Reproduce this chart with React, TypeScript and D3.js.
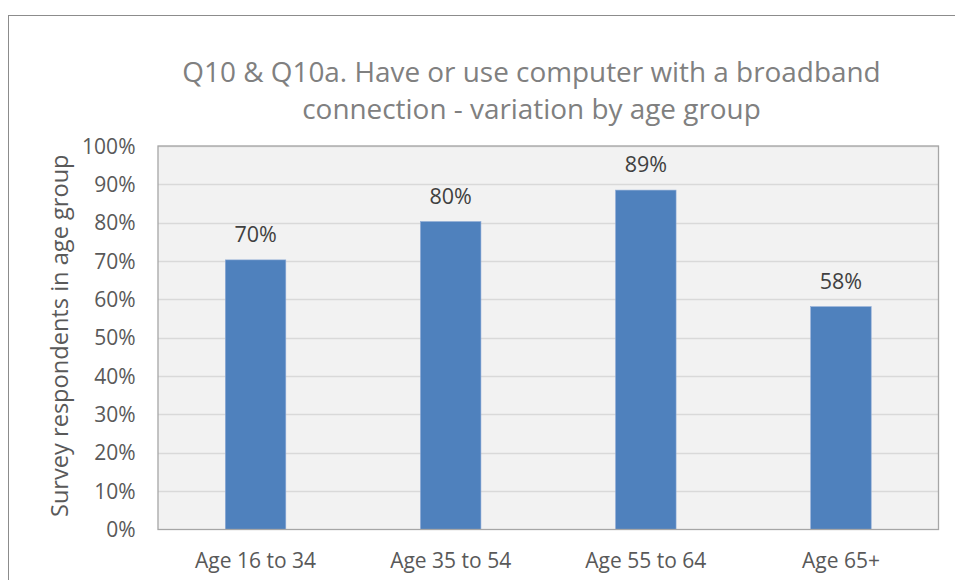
import React from "react";
import * as d3 from "d3";

const categories = ["Age 16 to 34", "Age 35 to 54", "Age 55 to 64", "Age 65+"];
const values = [0.703, 0.803, 0.885, 0.581];
const labels = ["70%", "80%", "89%", "58%"];
const yTicks = [0, 0.1, 0.2, 0.3, 0.4, 0.5, 0.6, 0.7, 0.8, 0.9, 1.0];
const titleLines = [
  "Q10 & Q10a. Have or use computer with a broadband",
  "connection - variation by age group",
];
const yTitle = "Survey respondents in age group";

const W = 955;
const H = 580;
const plot = { left: 158, top: 146, right: 938.5, bottom: 529.5 };
const FONT = "'Open Sans', 'Noto Sans', sans-serif";

export default function App() {
  const x = d3
    .scaleBand<string>()
    .domain(categories)
    .range([plot.left, plot.right])
    .paddingInner(0.69)
    .paddingOuter(0.345);
  const y = d3.scaleLinear().domain([0, 1]).range([plot.bottom, plot.top]);
  const fmt = d3.format(".0%");
  const band = (plot.right - plot.left) / categories.length;

  return (
    <svg
      width={W}
      height={H}
      style={{ position: "absolute", left: 0, top: 0, background: "#fff" }}
    >
      <rect x={8.5} y={15.5} width={1000} height={700} fill="#fff" stroke="#8c8c8c" strokeWidth={1} />
      <g fontFamily={FONT} fill="#808080" fontSize={27.9} textAnchor="middle">
        {titleLines.map((t, i) => (
          <text key={i} x={531.5} y={82 + i * 36.6}>
            {t}
          </text>
        ))}
      </g>
      <rect
        x={plot.left}
        y={plot.top}
        width={plot.right - plot.left}
        height={plot.bottom - plot.top}
        fill="#f2f2f2"
      />
      {yTicks.slice(1).map((t) => (
        <line
          key={t}
          x1={plot.left}
          x2={plot.right}
          y1={Math.round(y(t)) + 0.5}
          y2={Math.round(y(t)) + 0.5}
          stroke="#d9d9d9"
          strokeWidth={1.3}
        />
      ))}
      {categories.map((c, i) => (
        <rect
          key={c}
          x={x(c)}
          y={y(values[i])}
          width={x.bandwidth()}
          height={plot.bottom - y(values[i])}
          fill="#4f81bd"
          stroke="#8eaad6"
          strokeWidth={0.6}
        />
      ))}
      <rect
        x={plot.left}
        y={plot.top}
        width={plot.right - plot.left}
        height={plot.bottom - plot.top}
        fill="none"
        stroke="#a6a6a6"
        strokeWidth={1.3}
      />
      <g fontFamily={FONT} fontSize={21} fill="#595959" textAnchor="end">
        {yTicks.map((t) => (
          <text key={t} x={135.5} y={y(t)} dy="0.36em">
            {fmt(t)}
          </text>
        ))}
      </g>
      <g fontFamily={FONT} fontSize={21.5} fill="#404040" textAnchor="middle">
        {categories.map((c, i) => (
          <text key={c} x={x(c)! + x.bandwidth() / 2} y={y(values[i]) - 18}>
            {labels[i]}
          </text>
        ))}
      </g>
      <g fontFamily={FONT} fontSize={21} fill="#595959" textAnchor="middle">
        {categories.map((c, i) => (
          <text key={c} x={plot.left + band * (i + 0.5)} y={568}>
            {c}
          </text>
        ))}
      </g>
      <text
        transform={`translate(67.5,${(plot.top + plot.bottom) / 2 - 2}) rotate(-90)`}
        textAnchor="middle"
        fontFamily={FONT}
        fontSize={23.6}
        fill="#595959"
      >
        {yTitle}
      </text>
    </svg>
  );
}
